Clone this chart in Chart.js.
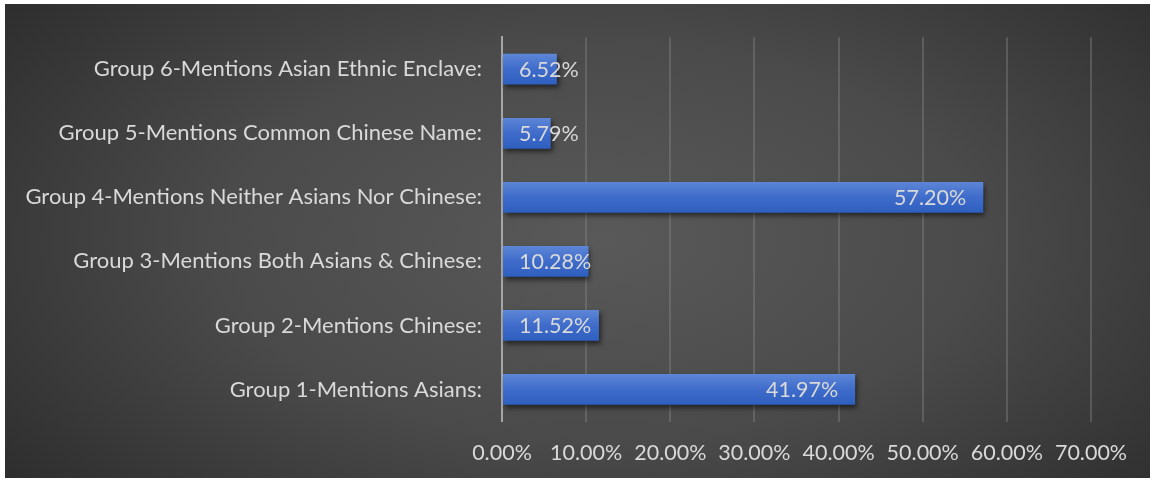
<!DOCTYPE html>
<html>
<head>
<meta charset="utf-8">
<script src="https://cdn.jsdelivr.net/npm/chart.js@4"></script>
<style>
  html, body { margin: 0; padding: 0; background: #fff; }
  body { width: 1155px; height: 480px; position: relative; overflow: hidden; }
  .box {
    position: absolute; left: 5px; top: 4px; width: 1145px; height: 474px;
    background: radial-gradient(ellipse 75% 95% at 52% 50%, #595959 0%, #4a4a4a 45%, #2c2c2c 90%, #262626 100%);
  }
  canvas { display: block; }
</style>
</head>
<body>
<div class="box"><canvas id="bar-chart" width="1145" height="474"></canvas></div>
<script>
// top to bottom
const categories = [
  'Group 6-Mentions Asian Ethnic Enclave:',
  'Group 5-Mentions Common Chinese Name:',
  'Group 4-Mentions Neither Asians Nor Chinese:',
  'Group 3-Mentions Both Asians & Chinese:',
  'Group 2-Mentions Chinese:',
  'Group 1-Mentions Asians:'
];
const shares = [6.52, 5.79, 57.20, 10.28, 11.52, 41.97];
const tickValues = [0, 10, 20, 30, 40, 50, 60, 70];

const FONT = 'Lato, "Open Sans", sans-serif';
const TEXT = '#d9d9d9';
const SIZE = 21.5;

// shadow under the bars
const barShadow = {
  id: 'barShadow',
  beforeDatasetDraw(chart) {
    const ctx = chart.ctx;
    ctx.save();
    ctx.shadowColor = 'rgba(0,0,0,0.55)';
    ctx.shadowBlur = 5;
    ctx.shadowOffsetX = 2;
    ctx.shadowOffsetY = 3;
  },
  afterDatasetDraw(chart) {
    chart.ctx.restore();
  }
};

// value labels near the end of each bar
const valueLabels = {
  id: 'valueLabels',
  afterDatasetsDraw(chart) {
    const ctx = chart.ctx;
    const meta = chart.getDatasetMeta(0);
    ctx.save();
    ctx.font = SIZE + 'px ' + FONT;
    ctx.fillStyle = TEXT;
    ctx.textBaseline = 'middle';
    ctx.textAlign = 'left';
    meta.data.forEach((bar, i) => {
      const txt = shares[i].toFixed(2) + '%';
      const w = ctx.measureText(txt).width;
      const x = Math.max(bar.base + 16, bar.x - 17 - w);
      ctx.fillText(txt, x, bar.y + 1);
    });
    ctx.restore();
  }
};

function barFill(c) {
  const chart = c.chart;
  const yScale = chart.scales.y;
  if (!yScale || !chart.chartArea) return '#3d6cc8';
  const y = yScale.getPixelForTick(c.dataIndex);
  const h = (chart.chartArea.height / categories.length) * 0.48;
  const g = chart.ctx.createLinearGradient(0, y - h / 2, 0, y + h / 2);
  g.addColorStop(0, '#5d86d6');
  g.addColorStop(0.5, '#3f6ccb');
  g.addColorStop(1, '#2e5fbf');
  return g;
}

const ctx = document.getElementById('bar-chart').getContext('2d');
new Chart(ctx, {
  type: 'bar',
  data: {
    labels: categories,
    datasets: [{
      data: shares,
      backgroundColor: barFill,
      borderWidth: 0,
      barPercentage: 0.48,
      categoryPercentage: 1
    }]
  },
  options: {
    indexAxis: 'y',
    responsive: false,
    animation: false,
    layout: { padding: { top: 27.5, right: 59, left: 0, bottom: 0 } },
    plugins: { legend: { display: false }, tooltip: { enabled: false } },
    scales: {
      x: {
        min: 0,
        max: 70,
        afterBuildTicks(axis) { axis.ticks = tickValues.map(v => ({ value: v })); },
        afterFit(axis) { axis.height = 56.5; },
        ticks: {
          color: TEXT,
          font: { family: FONT, size: SIZE },
          padding: 19,
          maxRotation: 0,
          callback: v => v.toFixed(2) + '%'
        },
        grid: { color: 'rgba(140,140,140,0.38)', lineWidth: 2, drawTicks: false },
        border: { display: false }
      },
      y: {
        afterFit(axis) { axis.width = 497; },
        ticks: {
          color: TEXT,
          font: { family: FONT, size: 22 },
          padding: 20
        },
        grid: { display: false, drawTicks: false },
        border: { display: true, color: '#a6a6a6', width: 2 }
      }
    }
  },
  plugins: [barShadow, valueLabels]
});
</script>
</body>
</html>
